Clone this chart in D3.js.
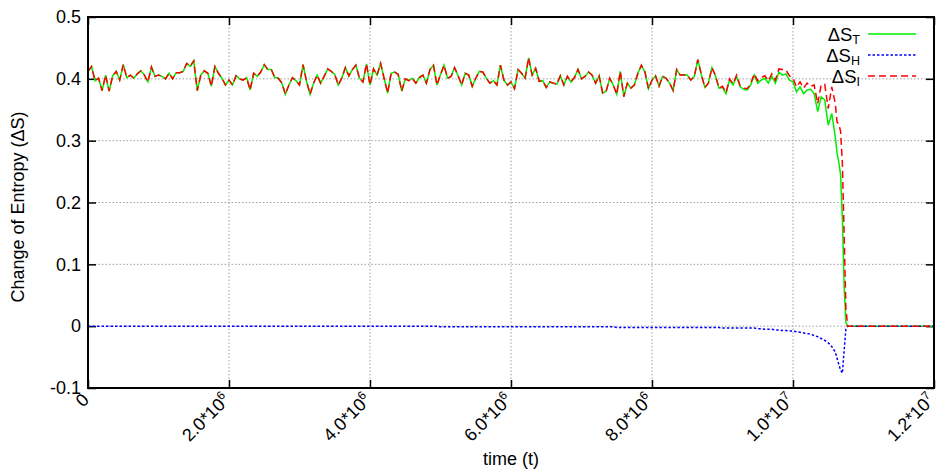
<!DOCTYPE html>
<html lang="en">
<head>
<meta charset="UTF-8">
<title>Change of Entropy</title>
<script src="https://d3js.org/d3.v7.min.js"></script>
<style>
  body { margin: 0; background: #fff; }
  text { font-family: "Liberation Sans", Arial, sans-serif; fill: #000; }
</style>
</head>
<body>
<svg width="938" height="476"></svg>
<script>
// samples every 5e4 steps, t = 0 .. 1.06e7
var timeStep = 50000;

var entropyT = [
  0.412,0.420,0.397,0.401,0.381,0.406,0.380,0.405,0.412,0.398,
  0.423,0.402,0.406,0.401,0.408,0.413,0.406,0.395,0.419,0.404,
  0.406,0.404,0.400,0.409,0.400,0.410,0.410,0.412,0.425,0.420,
  0.429,0.381,0.406,0.413,0.409,0.388,0.420,0.409,0.401,0.390,
  0.398,0.390,0.405,0.400,0.398,0.402,0.382,0.409,0.404,0.411,
  0.423,0.415,0.415,0.402,0.401,0.393,0.375,0.390,0.402,0.397,
  0.390,0.423,0.396,0.375,0.393,0.406,0.393,0.404,0.416,0.412,
  0.407,0.390,0.401,0.418,0.405,0.415,0.422,0.401,0.395,0.424,
  0.390,0.416,0.406,0.425,0.401,0.377,0.409,0.411,0.407,0.380,
  0.400,0.397,0.401,0.393,0.402,0.406,0.393,0.415,0.422,0.390,
  0.407,0.422,0.401,0.404,0.418,0.405,0.390,0.409,0.406,0.388,
  0.401,0.412,0.411,0.401,0.393,0.397,0.390,0.422,0.398,0.390,
  0.395,0.384,0.415,0.409,0.401,0.434,0.406,0.417,0.396,0.397,
  0.386,0.395,0.393,0.391,0.405,0.390,0.404,0.395,0.402,0.415,
  0.400,0.404,0.411,0.406,0.393,0.405,0.377,0.380,0.401,0.390,
  0.375,0.412,0.371,0.393,0.385,0.390,0.409,0.422,0.411,0.384,
  0.398,0.405,0.388,0.404,0.401,0.393,0.381,0.415,0.406,0.406,
  0.406,0.398,0.404,0.431,0.407,0.386,0.393,0.418,0.405,0.385,
  0.386,0.376,0.398,0.390,0.404,0.387,0.383,0.382,0.390,0.406,
  0.393,0.398,0.401,0.393,0.404,0.393,0.411,0.406,0.408,0.398,
  0.395,0.379,0.387,0.376,0.382,0.383,0.376,0.347,0.371,0.366,
  0.325,0.344,0.306
];

var entropyH = [
  0,0,0,0,0,0,0,0,0,0, 0,0,0,0,0,0,0,0,0,0,
  0,0,0,0,0,0,0,0,0,0, 0,0,0,0,0,0,0,0,0,0,
  0,0,0,0,0,0,0,0,0,0, 0,0,0,0,0,0,0,0,0,0,
  0,0,0,0,0,0,0,0,0,0, 0,0,0,0,0,0,0,0,0,0,
  0,0,0,0,0,0,0,0,0,0, 0,0,0,0,0,0,0,0,0,0,
  -0.001,-0.001,-0.001,-0.001,-0.001,-0.001,-0.001,-0.001,-0.001,-0.001,
  -0.001,-0.001,-0.001,-0.001,-0.001,-0.001,-0.001,-0.001,-0.001,-0.001,
  -0.001,-0.001,-0.001,-0.001,-0.001,-0.001,-0.001,-0.001,-0.001,-0.001,
  -0.001,-0.001,-0.001,-0.001,-0.001,-0.001,-0.001,-0.001,-0.001,-0.001,
  -0.001,-0.001,-0.001,-0.001,-0.001,-0.001,-0.001,-0.001,-0.001,-0.001,
  -0.002,-0.002,-0.002,-0.002,-0.002,-0.002,-0.002,-0.002,-0.002,-0.002,
  -0.002,-0.002,-0.002,-0.002,-0.002,-0.002,-0.002,-0.002,-0.002,-0.002,
  -0.002,-0.002,-0.002,-0.002,-0.002,-0.002,-0.002,-0.002,-0.002,-0.002,
  -0.003,-0.003,-0.003,-0.003,-0.003,-0.003,-0.003,-0.003,-0.003,-0.003,
  -0.004,-0.004,-0.005,-0.005,-0.005,-0.006,-0.006,-0.007,-0.007,-0.008,
  -0.008,-0.009,-0.010,-0.011,-0.012,-0.013,-0.015,-0.017,-0.020,-0.023,
  -0.027,-0.033,-0.042
];

var entropyI = [
  0.412,0.420,0.397,0.401,0.381,0.406,0.380,0.405,0.412,0.398,
  0.423,0.402,0.406,0.401,0.408,0.413,0.406,0.395,0.419,0.404,
  0.406,0.404,0.400,0.409,0.400,0.410,0.410,0.412,0.425,0.420,
  0.429,0.381,0.406,0.413,0.409,0.388,0.420,0.409,0.401,0.390,
  0.398,0.390,0.405,0.400,0.398,0.402,0.382,0.409,0.404,0.411,
  0.423,0.415,0.415,0.402,0.401,0.393,0.375,0.390,0.402,0.397,
  0.390,0.423,0.396,0.375,0.393,0.406,0.393,0.404,0.416,0.412,
  0.407,0.390,0.401,0.418,0.405,0.415,0.422,0.401,0.395,0.424,
  0.390,0.416,0.406,0.425,0.401,0.377,0.409,0.411,0.407,0.380,
  0.400,0.397,0.401,0.393,0.402,0.406,0.393,0.415,0.422,0.390,
  0.407,0.422,0.401,0.404,0.418,0.405,0.390,0.409,0.406,0.388,
  0.401,0.412,0.411,0.401,0.393,0.397,0.390,0.422,0.398,0.390,
  0.395,0.384,0.415,0.409,0.401,0.434,0.406,0.417,0.396,0.397,
  0.386,0.395,0.393,0.391,0.405,0.390,0.404,0.395,0.402,0.415,
  0.400,0.404,0.411,0.406,0.393,0.405,0.377,0.380,0.401,0.390,
  0.375,0.412,0.371,0.393,0.385,0.390,0.409,0.422,0.411,0.384,
  0.398,0.405,0.388,0.404,0.401,0.393,0.381,0.415,0.406,0.406,
  0.406,0.398,0.404,0.431,0.407,0.386,0.393,0.418,0.405,0.385,
  0.388,0.378,0.400,0.392,0.406,0.389,0.385,0.384,0.392,0.408,
  0.397,0.402,0.405,0.397,0.408,0.398,0.416,0.415,0.414,0.405,
  0.401,0.387,0.395,0.385,0.393,0.388,0.390,0.360,0.390,0.391,
  0.352,0.387,0.360
];

// finer samples through the collapse, then the flat tail
var tailTime = [10625000, 10650000, 10675000, 10700000, 10725000, 10750000, 10775000, 12000000];
var tailT = [0.280, 0.265, 0.245, 0.175, 0.065, 0.006, 0, 0];
var tailH = [-0.052, -0.062, -0.071, -0.076, -0.040, -0.005, 0, 0];
var tailI = [0.330, 0.327, 0.315, 0.265, 0.150, 0.030, 0, 0];

var xTicks = [0, 2e6, 4e6, 6e6, 8e6, 1e7, 1.2e7];
var xTickLabels = [["0", ""], ["2.0*10", "6"], ["4.0*10", "6"], ["6.0*10", "6"],
                   ["8.0*10", "6"], ["1.0*10", "7"], ["1.2*10", "7"]];
var yTicks = [-0.1, 0, 0.1, 0.2, 0.3, 0.4, 0.5];
var yTickLabels = ["-0.1", "0", "0.1", "0.2", "0.3", "0.4", "0.5"];
var seriesNames = ["T", "H", "I"];

var svg = d3.select("svg");
var plot = {left: 88, right: 934, top: 17, bottom: 388};

var x = d3.scaleLinear().domain([0, 1.2e7]).range([plot.left, plot.right]);
var y = d3.scaleLinear().domain([-0.1, 0.5]).range([plot.bottom, plot.top]);

// grid
var grid = svg.append("g").attr("stroke", "#a0a0a0").attr("stroke-width", 1)
    .attr("stroke-dasharray", "1.5,2");
grid.selectAll(".gx").data(xTicks.slice(1, -1)).enter().append("line")
    .attr("x1", function(d){ return x(d); }).attr("x2", function(d){ return x(d); })
    .attr("y1", plot.top).attr("y2", plot.bottom);
grid.selectAll(".gy").data(yTicks.slice(1, -1)).enter().append("line")
    .attr("x1", plot.left).attr("x2", plot.right)
    .attr("y1", function(d){ return y(d); }).attr("y2", function(d){ return y(d); });

// axes with inward ticks, mirrored on top and right
var tickLen = 8;
svg.append("g").attr("transform", "translate(0," + plot.bottom + ")")
    .call(d3.axisBottom(x).tickValues(xTicks).tickSize(-tickLen).tickFormat(""));
svg.append("g").attr("transform", "translate(0," + plot.top + ")")
    .call(d3.axisTop(x).tickValues(xTicks).tickSize(-tickLen).tickFormat(""));
svg.append("g").attr("transform", "translate(" + plot.left + ",0)")
    .call(d3.axisLeft(y).tickValues(yTicks).tickSize(-tickLen).tickFormat(""));
svg.append("g").attr("transform", "translate(" + plot.right + ",0)")
    .call(d3.axisRight(y).tickValues(yTicks).tickSize(-tickLen).tickFormat(""));
svg.selectAll(".domain").remove();
svg.selectAll(".tick line").attr("stroke", "#000").attr("stroke-width", 1.5);

// series
function points(main, tail) {
  return main.map(function(v, i){ return [i * timeStep, v]; })
    .concat(tail.map(function(v, i){ return [tailTime[i], v]; }));
}
var line = d3.line().x(function(d){ return x(d[0]); }).y(function(d){ return y(d[1]); });

var series = [
  {data: points(entropyT, tailT), color: "#00ee00", dash: null},
  {data: points(entropyH, tailH), color: "#0000ff", dash: "2.5,2"},
  {data: points(entropyI, tailI), color: "#ff0000", dash: "7,4"}
];

svg.selectAll(".series").data(series).enter().append("path")
    .attr("d", function(d){ return line(d.data); })
    .attr("fill", "none")
    .attr("stroke", function(d){ return d.color; })
    .attr("stroke-width", 1.5)
    .attr("stroke-dasharray", function(d){ return d.dash; });

// border
svg.append("rect")
    .attr("x", plot.left).attr("y", plot.top)
    .attr("width", plot.right - plot.left).attr("height", plot.bottom - plot.top)
    .attr("fill", "none").attr("stroke", "#000").attr("stroke-width", 2);

// tick labels
yTicks.forEach(function(d, i){
  svg.append("text")
      .attr("x", 81).attr("y", y(d)).attr("dy", "0.35em")
      .attr("text-anchor", "end").attr("font-size", 18)
      .text(yTickLabels[i]);
});
xTicks.forEach(function(d, i){
  var t = svg.append("text")
      .attr("transform", "translate(" + (x(d) + 2) + ",401) rotate(-45)")
      .attr("text-anchor", "end").attr("font-size", 18);
  t.append("tspan").text(xTickLabels[i][0]);
  if (xTickLabels[i][1]) {
    t.append("tspan").attr("dy", -7).attr("font-size", 12).text(xTickLabels[i][1]);
  }
});

// axis titles
svg.append("text")
    .attr("x", 511).attr("y", 465).attr("text-anchor", "middle").attr("font-size", 18)
    .text("time (t)");
svg.append("text")
    .attr("transform", "translate(24,207) rotate(-90)")
    .attr("text-anchor", "middle").attr("font-size", 18)
    .text("Change of Entropy (ΔS)");

// legend
var legendRows = [34, 55, 76];
series.forEach(function(s, i){
  var t = svg.append("text")
      .attr("x", 860).attr("y", legendRows[i] + 6.5)
      .attr("text-anchor", "end").attr("font-size", 18.5);
  t.append("tspan").text("ΔS");
  t.append("tspan").attr("dy", 3).attr("font-size", 12.5).text(seriesNames[i]);
  svg.append("line")
      .attr("x1", 868).attr("x2", 916)
      .attr("y1", legendRows[i]).attr("y2", legendRows[i])
      .attr("stroke", s.color).attr("stroke-width", 1.5)
      .attr("stroke-dasharray", s.dash);
});
</script>
</body>
</html>
